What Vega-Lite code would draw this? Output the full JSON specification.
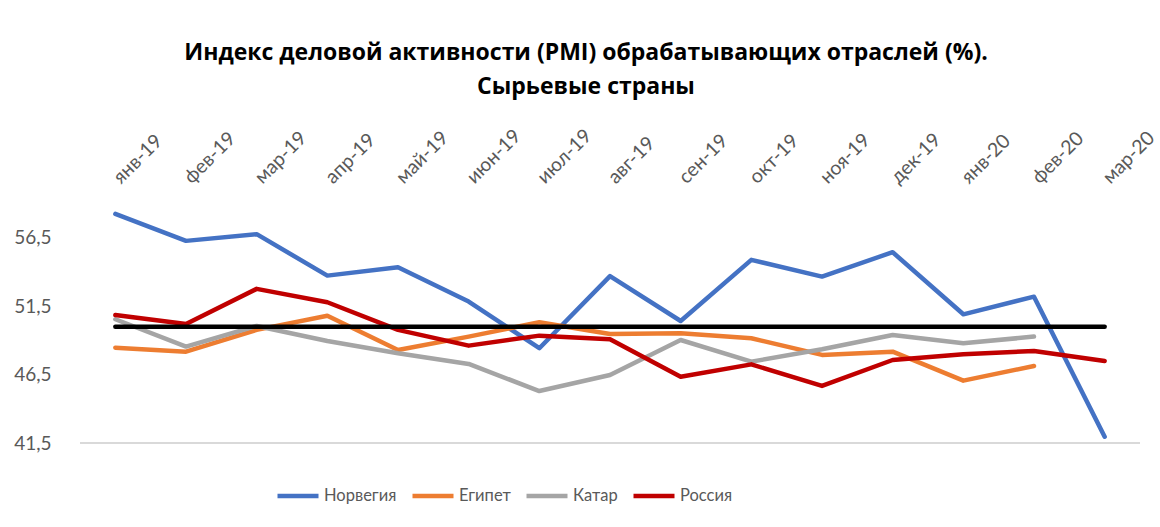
{
  "$schema": "https://vega.github.io/schema/vega-lite/v6.json",
  "width": 1060,
  "height": 253,
  "autosize": {"type": "none"},
  "padding": {"left": 80, "top": 190, "right": 20, "bottom": 84},
  "config": {"font": "Lato", "view": {"stroke": null}},
  "title": {
    "text": ["Индекс деловой активности (PMI) обрабатывающих отраслей (%).", "Сырьевые страны"],
    "font": "Open Sans",
    "fontSize": 23,
    "fontWeight": "bold",
    "color": "#000000",
    "lineHeight": 34,
    "anchor": "middle",
    "offset": 26,
    "dx": -24
  },
  "datasets": {
    "pmi": [
      {"month": "янв-19", "country": "Норвегия", "value": 58.25},
      {"month": "фев-19", "country": "Норвегия", "value": 56.28},
      {"month": "мар-19", "country": "Норвегия", "value": 56.77},
      {"month": "апр-19", "country": "Норвегия", "value": 53.74},
      {"month": "май-19", "country": "Норвегия", "value": 54.35},
      {"month": "июн-19", "country": "Норвегия", "value": 51.84},
      {"month": "июл-19", "country": "Норвегия", "value": 48.43},
      {"month": "авг-19", "country": "Норвегия", "value": 53.7},
      {"month": "сен-19", "country": "Норвегия", "value": 50.42},
      {"month": "окт-19", "country": "Норвегия", "value": 54.89},
      {"month": "ноя-19", "country": "Норвегия", "value": 53.67},
      {"month": "дек-19", "country": "Норвегия", "value": 55.45},
      {"month": "янв-20", "country": "Норвегия", "value": 50.91},
      {"month": "фев-20", "country": "Норвегия", "value": 52.2},
      {"month": "мар-20", "country": "Норвегия", "value": 41.96},
      {"month": "янв-19", "country": "Египет", "value": 48.47},
      {"month": "фев-19", "country": "Египет", "value": 48.18},
      {"month": "мар-19", "country": "Египет", "value": 49.77},
      {"month": "апр-19", "country": "Египет", "value": 50.81},
      {"month": "май-19", "country": "Египет", "value": 48.3},
      {"month": "июн-19", "country": "Египет", "value": 49.28},
      {"month": "июл-19", "country": "Египет", "value": 50.33},
      {"month": "авг-19", "country": "Египет", "value": 49.47},
      {"month": "сен-19", "country": "Египет", "value": 49.52},
      {"month": "окт-19", "country": "Египет", "value": 49.16},
      {"month": "ноя-19", "country": "Египет", "value": 47.94},
      {"month": "дек-19", "country": "Египет", "value": 48.18},
      {"month": "янв-20", "country": "Египет", "value": 46.06},
      {"month": "фев-20", "country": "Египет", "value": 47.13},
      {"month": "янв-19", "country": "Катар", "value": 50.55},
      {"month": "фев-19", "country": "Катар", "value": 48.55},
      {"month": "мар-19", "country": "Катар", "value": 50.06},
      {"month": "апр-19", "country": "Катар", "value": 48.96},
      {"month": "май-19", "country": "Катар", "value": 48.06},
      {"month": "июн-19", "country": "Катар", "value": 47.28},
      {"month": "июл-19", "country": "Катар", "value": 45.3},
      {"month": "авг-19", "country": "Катар", "value": 46.47},
      {"month": "сен-19", "country": "Катар", "value": 49.03},
      {"month": "окт-19", "country": "Катар", "value": 47.45},
      {"month": "ноя-19", "country": "Катар", "value": 48.35},
      {"month": "дек-19", "country": "Катар", "value": 49.4},
      {"month": "янв-20", "country": "Катар", "value": 48.79},
      {"month": "фев-20", "country": "Катар", "value": 49.28},
      {"month": "янв-19", "country": "Россия", "value": 50.86},
      {"month": "фев-19", "country": "Россия", "value": 50.2},
      {"month": "мар-19", "country": "Россия", "value": 52.77},
      {"month": "апр-19", "country": "Россия", "value": 51.79},
      {"month": "май-19", "country": "Россия", "value": 49.77},
      {"month": "июн-19", "country": "Россия", "value": 48.62},
      {"month": "июл-19", "country": "Россия", "value": 49.35},
      {"month": "авг-19", "country": "Россия", "value": 49.08},
      {"month": "сен-19", "country": "Россия", "value": 46.35},
      {"month": "окт-19", "country": "Россия", "value": 47.25},
      {"month": "ноя-19", "country": "Россия", "value": 45.67},
      {"month": "дек-19", "country": "Россия", "value": 47.57},
      {"month": "янв-20", "country": "Россия", "value": 47.99},
      {"month": "фев-20", "country": "Россия", "value": 48.23},
      {"month": "мар-20", "country": "Россия", "value": 47.5}
    ],
    "threshold": [
      {"month": "янв-19", "value": 50},
      {"month": "мар-20", "value": 50}
    ]
  },
  "layer": [
    {
      "data": {"values": [{"value": 41.5}]},
      "mark": {"type": "rule", "color": "#d9d9d9", "strokeWidth": 2},
      "encoding": {
        "y": {"field": "value", "type": "quantitative"},
        "x": {"value": 0},
        "x2": {"value": "width"}
      }
    },
    {
      "data": {"name": "pmi"},
      "mark": {"type": "line", "strokeWidth": 4.5, "strokeCap": "round", "strokeJoin": "round"},
      "encoding": {
        "x": {
          "field": "month",
          "type": "ordinal",
          "sort": null,
          "scale": {
            "type": "point",
            "padding": 0.5,
            "domain": ["янв-19", "фев-19", "мар-19", "апр-19", "май-19", "июн-19", "июл-19", "авг-19", "сен-19", "окт-19", "ноя-19", "дек-19", "янв-20", "фев-20", "мар-20"]
          },
          "axis": {
            "orient": "top",
            "title": null,
            "domain": false,
            "ticks": false,
            "labelAngle": -45,
            "labelAlign": "left",
            "labelBaseline": "middle",
            "labelFontSize": 19.5,
            "labelColor": "#595959",
            "labelPadding": 10,
            "labelOffset": 1
          }
        },
        "y": {
          "field": "value",
          "type": "quantitative",
          "scale": {"domain": [41.5, 60], "nice": false, "zero": false},
          "axis": {
            "title": null,
            "domain": false,
            "ticks": false,
            "grid": false,
            "values": [41.5, 46.5, 51.5, 56.5],
            "labelExpr": "replace(format(datum.value, '.1f'), '.', ',')",
            "labelFontSize": 19,
            "labelColor": "#595959",
            "labelPadding": 29
          }
        },
        "color": {
          "field": "country",
          "type": "nominal",
          "scale": {
            "domain": ["Норвегия", "Египет", "Катар", "Россия"],
            "range": ["#4472C4", "#ED7D31", "#A5A5A5", "#C00000"]
          },
          "legend": {
            "title": null,
            "orient": "none",
            "legendX": 195,
            "legendY": 283,
            "direction": "horizontal",
            "symbolType": "stroke",
            "symbolSize": 1681,
            "symbolStrokeWidth": 4.5,
            "labelFontSize": 16.5,
            "labelColor": "#595959",
            "labelOffset": 3,
            "columnPadding": 6,
            "padding": 0
          }
        }
      }
    },
    {
      "data": {"name": "threshold"},
      "mark": {"type": "line", "color": "#000000", "strokeWidth": 4.5, "strokeCap": "round"},
      "encoding": {
        "x": {"field": "month", "type": "ordinal"},
        "y": {"field": "value", "type": "quantitative"}
      }
    }
  ]
}
